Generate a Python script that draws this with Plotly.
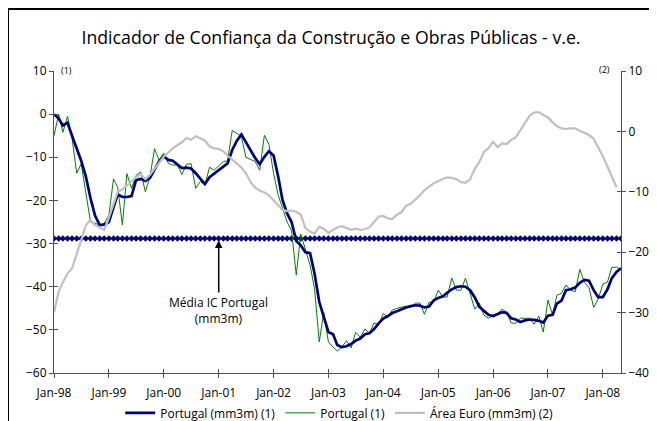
import plotly.graph_objects as go
import pandas as pd

# Monthly categories Jan-98 .. May-08
months = pd.date_range("1998-01-01", periods=125, freq="MS")

portugal_mm3m = [
    0, -1, -2.6, -2, -5, -7.8, -10.8, -14.5, -19.5, -23.5, -25.7, -25.6,
    -25, -21.6, -18.6, -19.2, -19.2, -19, -15.3, -15, -15.5, -14.8, -12.8, -11,
    -9.8, -10.6, -10.8, -11.7, -12.5, -12.4, -12.6, -13.7, -14.9, -16.2, -14.6, -13.8,
    -12.9, -12.2, -11.4, -8.3, -6.2, -4.7, -6.5, -8.5, -10.2, -11.6, -9.9, -8.6,
    -9.6, -14.5, -19.8, -23, -25, -29.4, -30.4, -32, -32.2, -37, -43.5, -47,
    -50.5, -51, -53.5, -54, -53.8, -53.3, -52.5, -52, -51, -50.8, -49.8, -48.5,
    -47.4, -46.8, -46.1, -45.7, -45.2, -44.8, -44.5, -44.3, -44.4, -44.8, -44.6, -43.2,
    -42.6, -42.2, -41.4, -40.6, -40.1, -39.9, -40, -40.8, -42.5, -44.6, -45.6, -46.5,
    -46.8, -46.4, -45.9, -46.1, -47.3, -47.6, -48.2, -47.8, -47.6, -47.7, -47.9, -48.3,
    -46.7, -46.5, -43.9, -43.2, -40.8, -40.6, -40.2, -39.1, -38.4, -38.6, -40.8, -42.4,
    -42.4, -40.6, -38, -36.6, -35.7,
]

portugal = [
    -5, 0, -4.2, -0.5, -5.5, -13.7, -11.5, -18, -25, -25.3, -25.7, -25.3,
    -23.5, -15, -17, -25.7, -13.8, -17.2, -14.2, -13.4, -18, -14.6, -8, -10.7,
    -9, -11.4, -11.8, -11.8, -14, -11.6, -11.5, -17.2, -15.6, -16.4, -12.3, -13,
    -12.1, -11, -10.8, -3.8, -4.4, -5.2, -10, -10.5, -11, -13, -4.9, -7,
    -13.7, -18.8, -21.8, -25, -27, -37.3, -27.8, -31.3, -35, -40.5, -52.8, -46,
    -52.8, -54, -54.9, -54, -52.5, -54.2, -50.6, -51.7, -49.8, -50.8, -48.4, -48.9,
    -46.2, -47.1, -45.4, -45, -44.8, -44.5, -44.8, -43.8, -43.8, -46.4, -43.6, -43.6,
    -40.8, -42.4, -42.4, -38, -40.8, -40.8, -38, -41.5, -45.2, -43.8, -46.6, -47.3,
    -46.6, -46.2, -45.2, -45.9, -48.4, -48.5, -47.3, -47.3, -47.3, -48.7, -46.8, -50.5,
    -43.1, -46.6, -42, -41.5, -39.6, -40.8, -41.2, -36, -39, -40.2, -44.8, -42.9,
    -39.4, -38.9, -35.5, -35.5, -36,
]

area_euro = [
    -30, -26.5, -25, -23.5, -22.7, -20.5, -18, -15.5, -14.7, -15.5, -15.9, -16.3,
    -14.3, -12.2, -10, -9.6, -9.0, -8.3, -7.6, -7.1, -7.9, -7.2, -6.2, -5.2,
    -4.2, -3.5, -2.8, -2.3, -1.8, -1.1, -1.4, -0.8, -1.2, -1.5, -2.5, -2.8,
    -2.9, -3.3, -4, -4.7, -5.4, -6, -6.9, -8.4, -9.3, -9.8, -10.1, -10.6,
    -11.4, -12.2, -13, -13.2, -13.1, -13.3, -13.8, -16, -16.6, -16.9, -15.8, -16.1,
    -16.8, -16.3, -15.9, -15.7, -16, -16.3, -16.1, -16.3, -16.2, -15.9, -15, -14.1,
    -14, -14.4, -14.5, -13.8, -13.4, -12.3, -12, -11.3, -10.6, -9.7, -9.1, -8.6,
    -8.2, -7.9, -7.6, -7.7, -7.9, -8.4, -8.5, -7.9, -6.2, -5.1, -3.4, -2.8,
    -1.7, -2.6, -2, -2.1, -1.4, -1, 0.2, 1.3, 2.6, 3.1, 3.2, 2.7,
    2.3, 1.5, 0.9, 0.5, 0.4, 0.5, 0.5, 0.1, -0.2, -0.6, -1.2, -2.6,
    -4.1, -5.8, -7.6, -9.2, None,
]

media_value = -28.8
media_ic = [media_value] * len(months)

FONT = "Open Sans"
NAVY = "#000080"
GREEN = "#008000"
GREY = "#C0C0C0"

fig = go.Figure()

fig.add_trace(go.Scatter(
    x=months, y=media_ic, mode="lines+markers", showlegend=False,
    line=dict(color=NAVY, width=1),
    marker=dict(symbol="diamond", size=5, color=NAVY),
    hoverinfo="skip",
))
fig.add_trace(go.Scatter(
    x=months, y=portugal, mode="lines", name="Portugal (1)", legendrank=2,
    line=dict(color=GREEN, width=1),
))
fig.add_trace(go.Scatter(
    x=months, y=portugal_mm3m, mode="lines", name="Portugal (mm3m) (1)", legendrank=1,
    line=dict(color=NAVY, width=2.7),
))
fig.add_trace(go.Scatter(
    x=months, y=area_euro, mode="lines", name="Área Euro (mm3m) (2)", legendrank=3,
    line=dict(color=GREY, width=2.2), yaxis="y2",
))

xr = [months[0], months[-1]]
axis_col = "#505050"

W, H = 649, 413  # page adds an 8px body margin

fig.update_layout(
    width=W, height=H,
    margin=dict(l=46, r=36, t=63, b=48, autoexpand=False),
    paper_bgcolor="white", plot_bgcolor="white",
    font=dict(family=FONT, size=12, color="black"),
    title=dict(
        text="Indicador de Confiança da Construção e Obras Públicas - v.e.",
        font=dict(family=FONT, size=17.7, color="black"),
        x=323 / W, xanchor="center", y=1 - 30 / H, yanchor="middle",
    ),
    showlegend=True,
    legend=dict(
        orientation="h", x=0.503, xanchor="center", y=-0.132, yanchor="middle",
        font=dict(family=FONT, size=12), traceorder="normal",
        itemwidth=30, bgcolor="rgba(0,0,0,0)",
    ),
    xaxis=dict(
        type="date", range=xr, showgrid=False, zeroline=False, automargin=False,
        showline=True, linecolor=axis_col, linewidth=1,
        ticks="outside", ticklen=4, tickcolor=axis_col,
        dtick="M12", tick0="1998-01-01", tickformat="%b-%y",
        tickfont=dict(size=12), ticklabelstandoff=5,
    ),
    xaxis2=dict(
        type="date", range=xr, overlaying="x", anchor="y", side="bottom",
        showgrid=False, zeroline=False, showline=False,
        ticks="inside", ticklen=4, tickcolor=axis_col,
        dtick="M12", tick0="1998-01-01", showticklabels=False,
    ),
    yaxis=dict(
        range=[-60, 10], dtick=10, showgrid=False, zeroline=False, automargin=False,
        showline=True, linecolor=axis_col, linewidth=1,
        ticks="outside", ticklen=4, tickcolor=axis_col,
        tickfont=dict(size=12),
    ),
    yaxis2=dict(
        range=[-40, 10], dtick=10, overlaying="y", side="right", anchor="x",
        showgrid=False, zeroline=False, automargin=False,
        showline=True, linecolor=axis_col, linewidth=1,
        ticks="outside", ticklen=4, tickcolor=axis_col,
        tickfont=dict(size=12),
    ),
    yaxis3=dict(
        range=[-60, 10], dtick=10, overlaying="y", side="left", anchor="x",
        showgrid=False, zeroline=False, showline=False,
        ticks="inside", ticklen=4, tickcolor=axis_col, showticklabels=False,
    ),
    yaxis4=dict(
        range=[-40, 10], dtick=10, overlaying="y", side="right", anchor="x",
        showgrid=False, zeroline=False, showline=False,
        ticks="inside", ticklen=4, tickcolor=axis_col, showticklabels=False,
    ),
)

# invisible traces to activate the cross-tick helper axes
fig.add_trace(go.Scatter(x=[months[0]], y=[None], xaxis="x2", yaxis="y3",
                         showlegend=False, hoverinfo="skip"))
fig.add_trace(go.Scatter(x=[months[0]], y=[None], yaxis="y4",
                         showlegend=False, hoverinfo="skip"))

fig.add_annotation(
    x=months[36], y=media_value, xref="x", yref="y",
    text="Média IC Portugal<br>(mm3m)", showarrow=True,
    arrowhead=2, arrowsize=1, arrowwidth=1.5, arrowcolor="black",
    ax=0, ay=72, font=dict(family=FONT, size=12, color="black"),
    standoff=2,
)
fig.add_annotation(x=0.009, y=1.03, xref="paper", yref="paper", text="(1)",
                   showarrow=False, font=dict(family=FONT, size=9))
fig.add_annotation(x=0.984, y=1.033, xref="paper", yref="paper", text="(2)",
                   showarrow=False, font=dict(family=FONT, size=9))

# outer frame (top and left edges)
fig.add_shape(type="line", xref="paper", yref="paper",
              x0=-0.0811, x1=1.07, y0=1.205, y1=1.205,
              line=dict(color="black", width=2))
fig.add_shape(type="line", xref="paper", yref="paper",
              x0=-0.0811, x1=-0.0811, y0=1.205, y1=-0.17,
              line=dict(color="black", width=2))

fig.write_html("out.html")
